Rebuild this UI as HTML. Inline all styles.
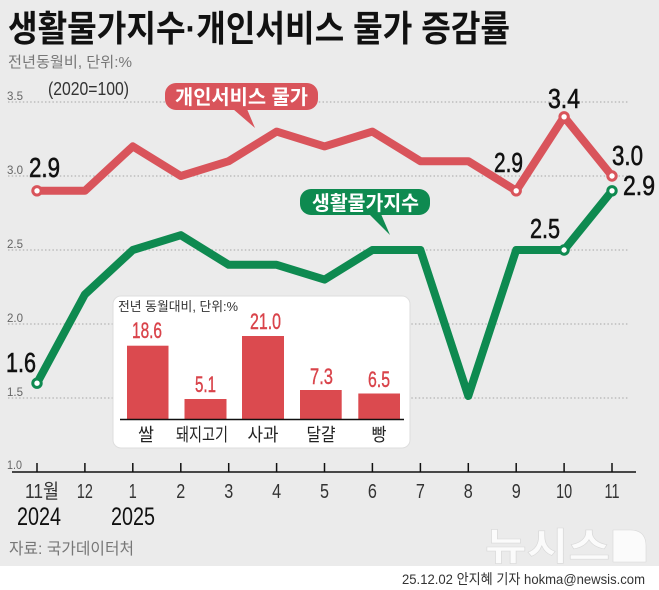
<!DOCTYPE html>
<html><head><meta charset="utf-8"><style>
html,body{margin:0;padding:0;background:#ebebeb;}
svg{display:block;}
</style></head><body>
<svg width="659" height="590" viewBox="0 0 659 590" xmlns="http://www.w3.org/2000/svg">
<rect x="0" y="0" width="659" height="590" fill="#ebebeb"/>
<rect x="0" y="566" width="659" height="24" fill="#ffffff"/>

<!-- title -->
<text x="8" y="41" font-family="Liberation Sans, 'Noto Sans CJK KR', sans-serif" font-weight="bold" font-size="36" fill="#111" textLength="502" lengthAdjust="spacingAndGlyphs">생활물가지수·개인서비스 물가 증감률</text>
<text x="8" y="67" font-family="Liberation Sans, 'Noto Sans CJK KR', sans-serif" font-size="15" fill="#777" textLength="124" lengthAdjust="spacingAndGlyphs">전년동월비, 단위:%</text>
<text x="48" y="95" font-family="Liberation Sans, sans-serif" font-size="18" fill="#333" textLength="81" lengthAdjust="spacingAndGlyphs">(2020=100)</text>

<!-- gridlines -->
<g stroke="#b4b4b4" stroke-width="1.3" stroke-dasharray="1.5,2.2">
<line x1="8" y1="102" x2="628" y2="102"/>
<line x1="8" y1="176" x2="628" y2="176"/>
<line x1="8" y1="250" x2="628" y2="250"/>
<line x1="8" y1="324" x2="628" y2="324"/>
<line x1="8" y1="398" x2="628" y2="398"/>
</g>
<g font-family="Liberation Sans, sans-serif" font-size="12" fill="#666">
<text x="7" y="100" textLength="16" lengthAdjust="spacingAndGlyphs">3.5</text>
<text x="7" y="174" textLength="16" lengthAdjust="spacingAndGlyphs">3.0</text>
<text x="7" y="248" textLength="16" lengthAdjust="spacingAndGlyphs">2.5</text>
<text x="7" y="322" textLength="16" lengthAdjust="spacingAndGlyphs">2.0</text>
<text x="7" y="396" textLength="16" lengthAdjust="spacingAndGlyphs">1.5</text>
<text x="7" y="469" textLength="15" lengthAdjust="spacingAndGlyphs">1.0</text>
</g>

<!-- axis -->
<line x1="12" y1="472" x2="636" y2="472" stroke="#111" stroke-width="1.6"/>
<g stroke="#111" stroke-width="1.5">
<line x1="37" y1="463" x2="37" y2="472"/>
<line x1="84.9" y1="463" x2="84.9" y2="472"/>
<line x1="132.8" y1="463" x2="132.8" y2="472"/>
<line x1="180.8" y1="463" x2="180.8" y2="472"/>
<line x1="228.7" y1="463" x2="228.7" y2="472"/>
<line x1="276.6" y1="463" x2="276.6" y2="472"/>
<line x1="324.5" y1="463" x2="324.5" y2="472"/>
<line x1="372.4" y1="463" x2="372.4" y2="472"/>
<line x1="420.4" y1="463" x2="420.4" y2="472"/>
<line x1="468.3" y1="463" x2="468.3" y2="472"/>
<line x1="516.2" y1="463" x2="516.2" y2="472"/>
<line x1="564.1" y1="463" x2="564.1" y2="472"/>
<line x1="612" y1="463" x2="612" y2="472"/>
</g>
<g font-family="Liberation Sans, 'Noto Sans CJK KR', sans-serif" font-size="20" fill="#333" text-anchor="middle">
<text x="42" y="498" textLength="34" lengthAdjust="spacingAndGlyphs">11월</text>
<text x="84.9" y="498" textLength="16" lengthAdjust="spacingAndGlyphs">12</text>
<text x="132.8" y="498" textLength="8" lengthAdjust="spacingAndGlyphs">1</text>
<text x="180.8" y="498" textLength="9" lengthAdjust="spacingAndGlyphs">2</text>
<text x="228.7" y="498" textLength="9" lengthAdjust="spacingAndGlyphs">3</text>
<text x="276.6" y="498" textLength="9" lengthAdjust="spacingAndGlyphs">4</text>
<text x="324.5" y="498" textLength="9" lengthAdjust="spacingAndGlyphs">5</text>
<text x="372.4" y="498" textLength="9" lengthAdjust="spacingAndGlyphs">6</text>
<text x="420.4" y="498" textLength="9" lengthAdjust="spacingAndGlyphs">7</text>
<text x="468.3" y="498" textLength="9" lengthAdjust="spacingAndGlyphs">8</text>
<text x="516.2" y="498" textLength="9" lengthAdjust="spacingAndGlyphs">9</text>
<text x="564.1" y="498" textLength="16" lengthAdjust="spacingAndGlyphs">10</text>
<text x="612" y="498" textLength="15" lengthAdjust="spacingAndGlyphs">11</text>
</g>
<g font-family="Liberation Sans, sans-serif" font-size="25" fill="#111">
<text x="17" y="525" textLength="44" lengthAdjust="spacingAndGlyphs">2024</text>
<text x="111" y="525" textLength="44" lengthAdjust="spacingAndGlyphs">2025</text>
</g>

<!-- inset box -->
<rect x="113" y="296" width="297" height="152" rx="8" ry="8" fill="#ffffff" stroke="#dedede" stroke-width="1"/>
<text x="118" y="311" font-family="Liberation Sans, 'Noto Sans CJK KR', sans-serif" font-size="13" fill="#333" textLength="120" lengthAdjust="spacingAndGlyphs">전년 동월대비, 단위:%</text>
<g fill="#db4a4f">
<rect x="127" y="345.7" width="41.5" height="73.6"/>
<rect x="184.5" y="399" width="42" height="20.3"/>
<rect x="242" y="336" width="42" height="83.3"/>
<rect x="300" y="390" width="41.7" height="29.3"/>
<rect x="358.3" y="393.5" width="41.7" height="25.8"/>
</g>
<line x1="120" y1="419.5" x2="404" y2="419.5" stroke="#111" stroke-width="1.5"/>
<g font-family="Liberation Sans, sans-serif" font-size="22" fill="#d9434a" text-anchor="middle" stroke="#d9434a" stroke-width="0.4">
<text x="147" y="338" textLength="30" lengthAdjust="spacingAndGlyphs">18.6</text>
<text x="205.5" y="392" textLength="21" lengthAdjust="spacingAndGlyphs">5.1</text>
<text x="265.5" y="329" textLength="31" lengthAdjust="spacingAndGlyphs">21.0</text>
<text x="321.5" y="384" textLength="23" lengthAdjust="spacingAndGlyphs">7.3</text>
<text x="379" y="387" textLength="22" lengthAdjust="spacingAndGlyphs">6.5</text>
</g>
<g font-family="Liberation Sans, 'Noto Sans CJK KR', sans-serif" font-size="18" fill="#222" text-anchor="middle">
<text x="146" y="441" textLength="16" lengthAdjust="spacingAndGlyphs">쌀</text>
<text x="202" y="441" textLength="52" lengthAdjust="spacingAndGlyphs">돼지고기</text>
<text x="263" y="441" textLength="31" lengthAdjust="spacingAndGlyphs">사과</text>
<text x="321" y="441" textLength="29" lengthAdjust="spacingAndGlyphs">달걀</text>
<text x="379" y="441" textLength="15" lengthAdjust="spacingAndGlyphs">빵</text>
</g>

<!-- series -->
<polyline fill="none" stroke="#d9545b" stroke-width="8" stroke-linejoin="round" stroke-linecap="round"
points="37,190.8 84.9,190.8 132.8,146.4 180.8,176 228.7,161.2 276.6,131.6 324.5,146.4 372.4,131.6 420.4,161.2 468.3,161.2 516.2,190.8 564.1,116.8 612,176"/>
<polyline fill="none" stroke="#0e8a50" stroke-width="8" stroke-linejoin="round" stroke-linecap="round"
points="37,383.2 84.9,294.4 132.8,250 180.8,235.2 228.7,264.8 276.6,264.8 324.5,279.6 372.4,250 420.4,250 468.3,396 516.2,250 564.1,250 612,190.8"/>
<g fill="#ffffff" stroke-width="3">
<circle cx="37" cy="190.8" r="4.2" stroke="#d9545b"/>
<circle cx="516.2" cy="190.8" r="4.2" stroke="#d9545b"/>
<circle cx="564.1" cy="116.8" r="4.2" stroke="#d9545b"/>
<circle cx="612" cy="176" r="4.2" stroke="#d9545b"/>
<circle cx="37" cy="383.2" r="4.2" stroke="#0e8a50"/>
<circle cx="564.1" cy="250" r="4.2" stroke="#0e8a50"/>
<circle cx="612" cy="190.8" r="4.2" stroke="#0e8a50"/>
</g>

<!-- value labels -->
<g font-family="Liberation Sans, sans-serif" font-size="28" fill="#111" stroke="#111" stroke-width="0.6">
<text x="29" y="177" textLength="31" lengthAdjust="spacingAndGlyphs">2.9</text>
<text x="6" y="372" textLength="30" lengthAdjust="spacingAndGlyphs">1.6</text>
<text x="494" y="172" textLength="29" lengthAdjust="spacingAndGlyphs">2.9</text>
<text x="548" y="108" textLength="32" lengthAdjust="spacingAndGlyphs">3.4</text>
<text x="612" y="165" textLength="31" lengthAdjust="spacingAndGlyphs">3.0</text>
<text x="623" y="195" textLength="32" lengthAdjust="spacingAndGlyphs">2.9</text>
<text x="530" y="238" textLength="30" lengthAdjust="spacingAndGlyphs">2.5</text>
</g>

<!-- callouts -->
<rect x="165" y="83" width="153" height="27" rx="11" ry="11" fill="#d9545b"/>
<polygon points="233,109 247,109 255,128" fill="#d9545b"/>
<text x="175" y="104" font-family="Liberation Sans, 'Noto Sans CJK KR', sans-serif" font-weight="bold" font-size="20" fill="#ffffff" textLength="133" lengthAdjust="spacingAndGlyphs">개인서비스 물가</text>

<rect x="300" y="189" width="130" height="26" rx="11" ry="11" fill="#0e8a50"/>
<polygon points="369,214 381,214 390,235" fill="#0e8a50"/>
<text x="312" y="210" font-family="Liberation Sans, 'Noto Sans CJK KR', sans-serif" font-weight="bold" font-size="20" fill="#ffffff" textLength="107" lengthAdjust="spacingAndGlyphs">생활물가지수</text>

<!-- source -->
<text x="9" y="554" font-family="Liberation Sans, 'Noto Sans CJK KR', sans-serif" font-size="16" fill="#777" textLength="125" lengthAdjust="spacingAndGlyphs">자료: 국가데이터처</text>

<!-- watermark -->
<text x="485" y="560" font-family="Liberation Sans, 'Noto Sans CJK KR', sans-serif" font-weight="bold" font-size="38" fill="#fbfbfb" stroke="#d8d8d8" stroke-width="0.6" textLength="125" lengthAdjust="spacingAndGlyphs">뉴시스</text>
<path d="M613,530 L630,530 Q646,530 646,546 L646,562 L613,562 Z" fill="#fbfbfb" stroke="#d8d8d8" stroke-width="0.6"/>

<!-- footer -->
<text x="402" y="584" font-family="Liberation Sans, 'Noto Sans CJK KR', sans-serif" font-size="14" fill="#333" textLength="243" lengthAdjust="spacingAndGlyphs">25.12.02 안지혜 기자 hokma@newsis.com</text>
</svg>
</body></html>
